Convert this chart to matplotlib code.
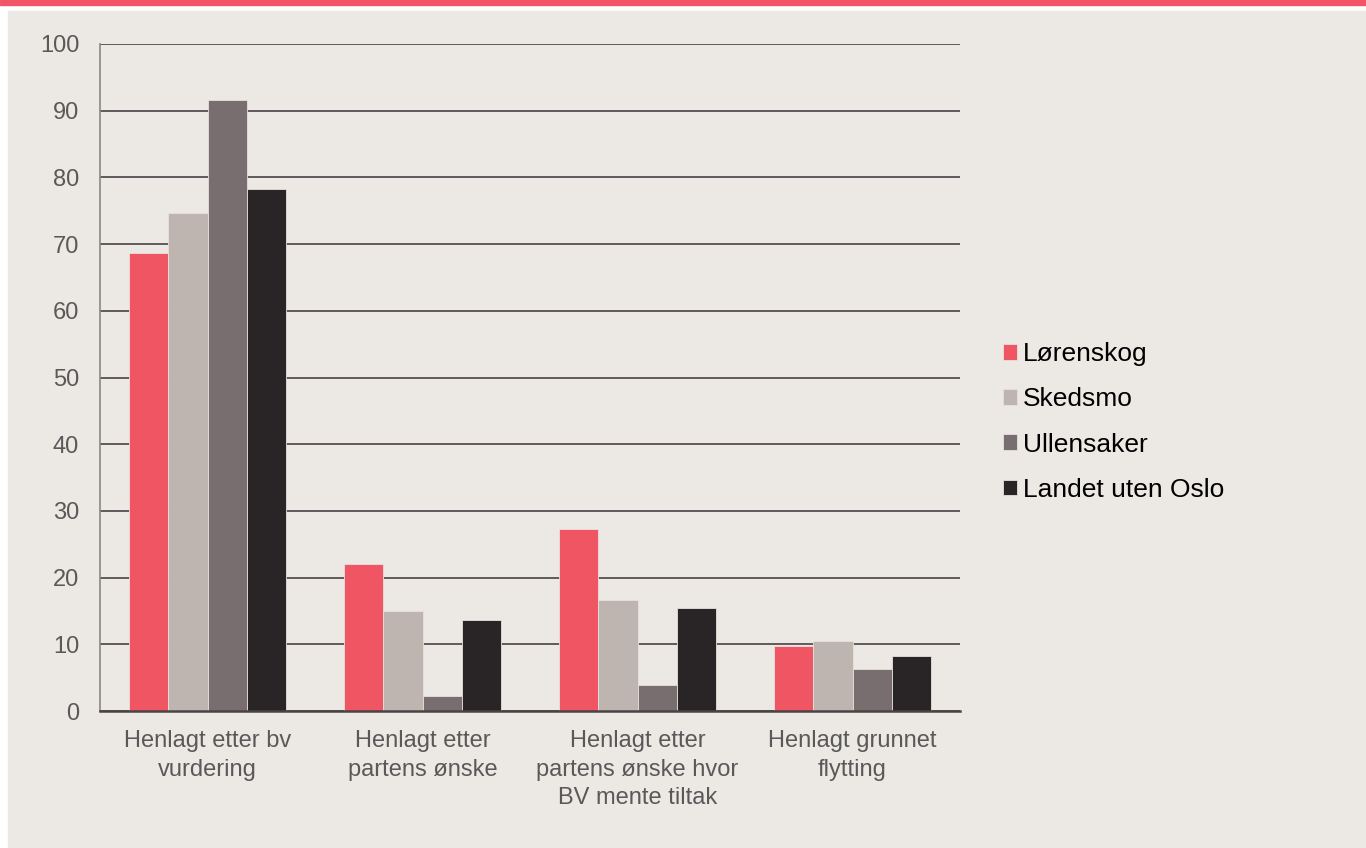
import matplotlib.pyplot as plt
import numpy as np
from matplotlib.patches import Rectangle

plt.rcParams['font.family'] = ['Liberation Sans', 'DejaVu Sans']

categories = ['Henlagt etter bv\nvurdering', 'Henlagt etter\npartens ønske',
              'Henlagt etter\npartens ønske hvor\nBV mente tiltak',
              'Henlagt grunnet\nflytting']
series = ['Lørenskog', 'Skedsmo', 'Ullensaker', 'Landet uten Oslo']
lorenskog = [68.7, 22.0, 27.3, 9.7]
skedsmo = [74.7, 15.0, 16.6, 10.5]
ullensaker = [91.6, 2.2, 3.9, 6.3]
landet = [78.3, 13.6, 15.4, 8.2]
yticks = list(range(0, 101, 10))

colors = ['#F05563', '#BFB5B0', '#786E70', '#292526']
bg = '#ECE8E4'

fig = plt.figure(figsize=(13.66, 8.48), dpi=100)
fig.patch.set_facecolor('white')
# page background and top strip
fig.patches.append(Rectangle((8 / 1366, 0), 1 - 8 / 1366, 1 - 11 / 848,
                             transform=fig.transFigure, color=bg, zorder=-2))
fig.patches.append(Rectangle((0, 1 - 5 / 848), 1, 5 / 848,
                             transform=fig.transFigure, color='#F25566', zorder=-1))

ax = fig.add_axes([100 / 1366, 1 - 711 / 848, 860 / 1366, 667 / 848])
ax.set_facecolor(bg)

x = np.arange(len(categories))
w = 0.1825
data = [lorenskog, skedsmo, ullensaker, landet]
for i, vals in enumerate(data):
    ax.bar(x + (i - 1.5) * w, vals, w, color=colors[i], label=series[i],
           edgecolor='#E6E1DD', linewidth=0.6, zorder=3)

ax.set_xlim(-0.5, len(categories) - 0.5)
ax.set_ylim(0, 100)
ax.set_yticks(yticks)
ax.yaxis.grid(True, color='#574E52', linewidth=1.3, zorder=1)
ax.set_axisbelow(True)
for s in ['top', 'right']:
    ax.spines[s].set_visible(False)
ax.spines['left'].set_color('#8A8587')
ax.spines['left'].set_linewidth(1.2)
ax.spines['bottom'].set_color('#4A4245')
ax.spines['bottom'].set_linewidth(1.8)
ax.spines['bottom'].set_zorder(4)
ax.set_xticks(x)
ax.set_xticklabels(categories, fontsize=17, color='#595959', linespacing=1.37)
ax.tick_params(axis='both', length=0, labelsize=17, labelcolor='#595959')
ax.tick_params(axis='y', pad=15)
ax.tick_params(axis='x', pad=14)

leg = fig.legend(loc='center left', bbox_to_anchor=(1003 / 1366, 1 - 422 / 848),
                 frameon=False, fontsize=19, handlelength=0.53, handleheight=0.53,
                 handletextpad=0.23, labelspacing=0.8, borderpad=0,
                 borderaxespad=0)

fig.savefig('out.png', dpi=100, facecolor=fig.get_facecolor())
